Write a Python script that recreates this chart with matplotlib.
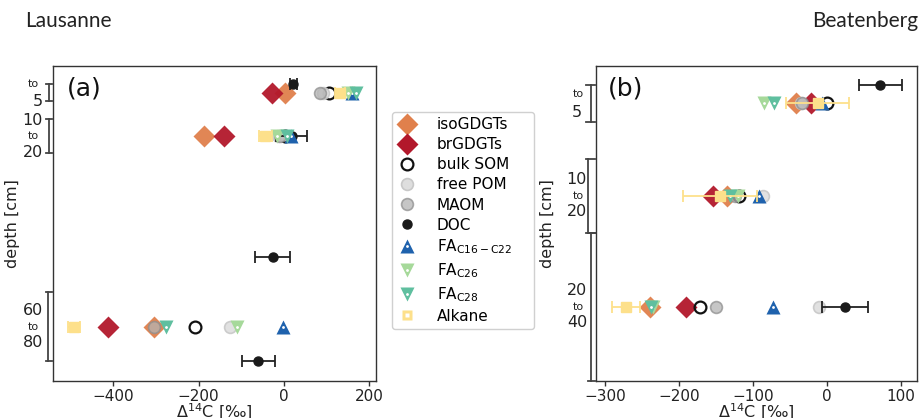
import matplotlib
matplotlib.use("Agg")
import matplotlib.pyplot as plt
import matplotlib.transforms as mtransforms
from matplotlib.lines import Line2D

# ==================== data ====================
# Lausanne
LAU_DEPTH = [2.5, 15, 70]
LAU_ISO = [2, -187, -305]
LAU_BR = [-27, -141, -412]
LAU_BULK = [106, 2, -209]
LAU_FREEPOM = [92, -15, -127]
LAU_MAOM = [84, -9, -305]
LAU_FA16 = [159, 16, -2]
LAU_FA26 = [150, -17, -109]
LAU_FA28 = [168, 7, -277]
LAU_ALK = [131, -44, -492]
LAU_ALK_ERR = [12, 15, 15]
LAU_DOC_DEPTH = [0, 15, 50, 80]
LAU_DOC = [22, 18, -26, -60]
LAU_DOC_ERR = [8, 37, 41, 39]
LAU_LAYERS = [(0, 5), (10, 20), (60, 80)]

# Beatenberg
BEA_DEPTH = [2.5, 15, 30]
BEA_ISO = [-42, -136, -240]
BEA_BR = [-22, -154, -191]
BEA_BULK = [0, -119, -172]
BEA_FREEPOM = [-35, -87, -11]
BEA_MAOM = [-34, -124, -150]
BEA_FA16 = [-7, -92, -73]
BEA_FA26 = [-86, -121, -236]
BEA_FA28 = [-72, -131, -238]
BEA_ALK = [-13, -145, -272]
BEA_ALK_ERR = [43, 50, 19]
BEA_DOC_DEPTH = [0, 30]
BEA_DOC = [72, 24]
BEA_DOC_ERR = [29, 31]
BEA_LAYERS = [(0, 5), (10, 20), (20, 40)]

# ==================== styles ====================
C_ISO = '#e0804c'
C_BR = '#b2182b'
C_BULK = '#111111'
C_FREE = '#dedede'
C_FREE_E = '#c8c8c8'
C_MAOM = '#b4b4b4'
C_MAOM_E = '#8e8e8e'
C_DOC = '#1a1a1a'
C_FA16 = '#1f62ad'
C_FA26 = '#a6d99a'
C_FA28 = '#5fbf9f'
C_ALK = '#fde08b'
SPINE = '#333333'

MS_D = 11.5   # diamonds
MS_O = 8.5    # circles
MS_T = 10     # triangles
MS_S = 7.5    # squares

plt.rcParams['font.family'] = 'DejaVu Sans'
plt.rcParams['axes.edgecolor'] = SPINE
plt.rcParams['xtick.color'] = SPINE
plt.rcParams['xtick.labelcolor'] = '#222222'

fig = plt.figure(figsize=(9.2, 4.18), dpi=100)
ax_a = fig.add_axes([0.0573, 0.0885, 0.3511, 0.7536])
ax_b = fig.add_axes([0.6475, 0.0885, 0.3496, 0.7536])


def draw_site(ax, depth, iso, br, bulk, freepom, maom, fa16, fa26, fa28,
              alk, alk_err, doc_depth, doc, doc_err):
    ax.plot(iso, depth, 'D', ms=MS_D, color=C_ISO, mec='none', alpha=0.95, zorder=3)
    ax.plot(br, depth, 'D', ms=MS_D, color=C_BR, mec='none', alpha=0.95, zorder=3)
    ax.plot(bulk, depth, 'o', ms=MS_O, mfc='none', mec=C_BULK, mew=1.6, zorder=3)
    ax.plot(freepom, depth, 'o', ms=MS_O, mfc=C_FREE, mec=C_FREE_E, mew=1.2,
            alpha=0.9, zorder=3)
    ax.plot(maom, depth, 'o', ms=MS_O, mfc=C_MAOM, mec=C_MAOM_E, mew=1.2,
            alpha=0.75, zorder=3)
    ax.errorbar(doc, doc_depth, xerr=doc_err, fmt='o', ms=6.5, color=C_DOC,
                ecolor='#222222', elinewidth=1.3, capsize=4, capthick=1.3,
                zorder=3)
    for vals, mk, col in [(fa16, '^', C_FA16), (fa26, 'v', C_FA26),
                          (fa28, 'v', C_FA28)]:
        ax.plot(vals, depth, mk, ms=MS_T, color=col, mec='none', zorder=4)
        ax.plot(vals, depth, '.', ms=2, color='white', zorder=4)
    ax.errorbar(alk, depth, xerr=alk_err, fmt='s', ms=MS_S, color=C_ALK,
                ecolor=C_ALK, elinewidth=1.3, capsize=4, capthick=1.3,
                zorder=5)
    ax.plot(alk, depth, 's', ms=2.8, color='white', mec='none', zorder=5)


draw_site(ax_a, LAU_DEPTH, LAU_ISO, LAU_BR, LAU_BULK, LAU_FREEPOM, LAU_MAOM,
          LAU_FA16, LAU_FA26, LAU_FA28, LAU_ALK, LAU_ALK_ERR,
          LAU_DOC_DEPTH, LAU_DOC, LAU_DOC_ERR)
draw_site(ax_b, BEA_DEPTH, BEA_ISO, BEA_BR, BEA_BULK, BEA_FREEPOM, BEA_MAOM,
          BEA_FA16, BEA_FA26, BEA_FA28, BEA_ALK, BEA_ALK_ERR,
          BEA_DOC_DEPTH, BEA_DOC, BEA_DOC_ERR)

ax_a.set_xlim(-542, 215)
ax_a.set_ylim(85.7, -5.2)
ax_a.set_xticks([-400, -200, 0, 200])
ax_b.set_xlim(-313, 122)
ax_b.set_ylim(40, -2.5)
ax_b.set_xticks([-300, -200, -100, 0, 100])


def depth_brackets(ax, layers, x_line, cap, x_num, x_to):
    trans = mtransforms.blended_transform_factory(ax.transAxes, ax.transData)
    for i, (top, bot) in enumerate(layers):
        xl = x_line[i]
        c0, c1 = cap[i]
        ax.plot([xl, xl], [top, bot], color='#444444', lw=1.3,
                transform=trans, clip_on=False)
        ax.plot([c0, c1], [top, top], color='#444444', lw=1.3,
                transform=trans, clip_on=False)
        ax.plot([c0, c1], [bot, bot], color='#444444', lw=1.3,
                transform=trans, clip_on=False)
        mid = 0.5 * (top + bot)
        if i == 0:
            items = [(str(bot), 9, x_num[i], 'right', 11.5),
                     ('to', -9, x_to, 'center', 8)]
        else:
            items = [(str(top), -16, x_num[i], 'right', 11.5),
                     ('to', 0, x_to, 'center', 8),
                     (str(bot), 16, x_num[i], 'right', 11.5)]
        for txt, dy, xx, ha, fs in items:
            ax.annotate(txt, xy=(xx, mid), xycoords=trans,
                        xytext=(0, -dy), textcoords='offset pixels',
                        ha=ha, va='center', fontsize=fs, color='#222222',
                        annotation_clip=False)


depth_brackets(ax_a, LAU_LAYERS,
               x_line=[-0.0115, -0.0115, -0.0135],
               cap=[(-0.022, -0.001)] * 3,
               x_num=[-0.030, -0.030, -0.030], x_to=-0.059)
depth_brackets(ax_b, BEA_LAYERS,
               x_line=[-0.016, -0.023, -0.0155],
               cap=[(-0.031, -0.002), (-0.030, -0.002), (-0.025, -0.002)],
               x_num=[-0.042, -0.027, -0.027], x_to=-0.055)

for ax, lab, lx, ly, yl in [(ax_a, '(a)', 0.044, 0.93, -0.101),
                             (ax_b, '(b)', 0.038, 0.927, -0.127)]:
    ax.set_yticks([])
    ax.tick_params(axis='x', labelsize=11, length=3.5, width=1, pad=2)
    for s in ax.spines.values():
        s.set_linewidth(1.0)
    ax.text(lx, ly, lab, transform=ax.transAxes, fontsize=18, va='center',
            color='#111111')
    ax.set_ylabel('depth [cm]', fontsize=11.5, color='#222222')
    ax.yaxis.set_label_coords(yl, 0.5)
    ax.set_xlabel('Δ$^{14}$C [‰]', fontsize=11.5, color='#222222', labelpad=-1)

# ==================== legend ====================
def fa_handle(mk, col):
    return (Line2D([], [], ls='none', marker=mk, ms=MS_T, color=col, mec='none'),
            Line2D([], [], ls='none', marker='.', ms=2, color='white'))


handles = [
    Line2D([], [], ls='none', marker='D', ms=MS_D, color=C_ISO, mec='none'),
    Line2D([], [], ls='none', marker='D', ms=MS_D, color=C_BR, mec='none'),
    Line2D([], [], ls='none', marker='o', ms=MS_O, mfc='none', mec=C_BULK, mew=1.6),
    Line2D([], [], ls='none', marker='o', ms=MS_O, mfc=C_FREE, mec=C_FREE_E, mew=1.2),
    Line2D([], [], ls='none', marker='o', ms=MS_O, mfc=C_MAOM, mec=C_MAOM_E, mew=1.2,
           alpha=0.75),
    Line2D([], [], ls='none', marker='o', ms=6.5, color=C_DOC),
    fa_handle('^', C_FA16),
    fa_handle('v', C_FA26),
    fa_handle('v', C_FA28),
    (Line2D([], [], ls='none', marker='s', ms=MS_S, color=C_ALK, mec='none'),
     Line2D([], [], ls='none', marker='s', ms=2.8, color='white', mec='none')),
]
labels = ['isoGDGTs', 'brGDGTs', 'bulk SOM', 'free POM', 'MAOM', 'DOC',
          r'FA$_{\mathrm{C16-C22}}$' + '\u00a0' * 4, r'FA$_{\mathrm{C26}}$',
          r'FA$_{\mathrm{C28}}$', 'Alkane']
fig.legend(handles, labels, loc='upper left', bbox_to_anchor=(0.426, 0.732),
           borderaxespad=0, fontsize=11, frameon=True, framealpha=1,
           edgecolor='#d0d0d0', labelspacing=0.33, handletextpad=1.3,
           borderpad=0.35, handlelength=1.3)

# ==================== site titles ====================
fig.text(25 / 920, 1 - 21 / 418, 'Lausanne', ha='left', va='center',
         fontsize=15, family='Lato', color='#222222')
fig.text(918 / 920, 1 - 21 / 418, 'Beatenberg', ha='right', va='center',
         fontsize=15, family='Lato', color='#222222')

fig.savefig('out.png', dpi=100)
